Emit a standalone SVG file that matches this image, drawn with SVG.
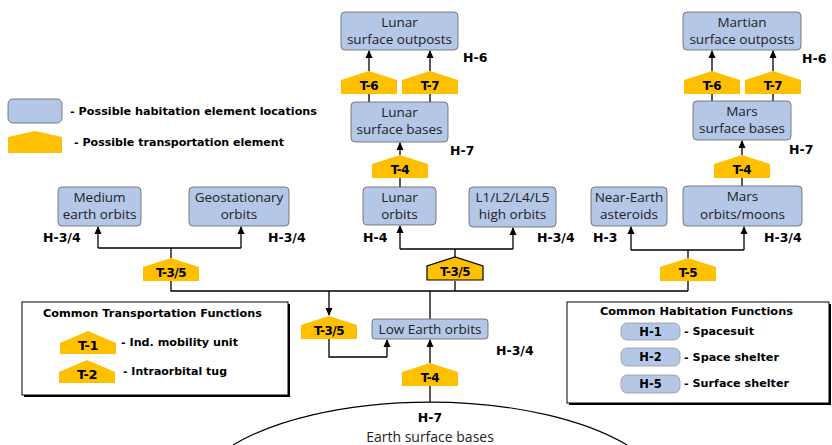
<svg xmlns="http://www.w3.org/2000/svg" width="832" height="445" viewBox="0 0 832 445">
<style>
.hab{fill:#b4c7e7;stroke:#5f5f5f;stroke-width:0.8}
.pill{fill:#b4c7e7;stroke:#9a9a9a;stroke-width:0.8}
.tr{fill:#ffc000}
.nl{font-family:"Open Sans","DejaVu Sans",sans-serif;font-size:13.5px;fill:#222;text-anchor:middle}
.hl{font-family:"DejaVu Sans",sans-serif;font-weight:bold;font-size:12.5px;fill:#000}
.tl{font-family:"DejaVu Sans",sans-serif;font-weight:bold;font-size:12px;letter-spacing:-0.5px;fill:#000;text-anchor:middle}
.lg{font-family:"DejaVu Sans",sans-serif;font-weight:bold;font-size:11px;fill:#000}
.cn{fill:none;stroke:#000;stroke-width:1.3}
.ar{fill:none;stroke:#000;stroke-width:1.3;marker-end:url(#ah)}
</style>
<defs>
<marker id="ah" markerUnits="userSpaceOnUse" markerWidth="8" markerHeight="8" refX="7" refY="4" orient="auto">
<path d="M0,0.5 L8,4 L0,7.5 Z" fill="#000"/>
</marker>
<path id="pent" d="M0,23 V9 L28,0 L56,9 V23 Z"/>
<path id="pentL" d="M0,23 V12 L28,0 L56,12 V23 Z"/>
</defs>

<!-- Top legend -->
<g id="legend-top">
<rect class="hab" x="8" y="99" width="54" height="24" rx="5"/>
<text class="lg" x="70" y="115" textLength="247" lengthAdjust="spacingAndGlyphs">- Possible habitation element locations</text>
<path class="tr" d="M8,153 V137 L35,131 L62,137 V153 Z"/>
<text class="lg" x="74" y="146" textLength="210" lengthAdjust="spacingAndGlyphs">- Possible transportation element</text>
</g>

<!-- Connectors -->
<g id="connectors">
<path class="cn" d="M171,281 V291 H688"/>
<path class="cn" d="M171,258 V248 M98,248 H241"/>
<path class="ar" d="M98,248 V227"/>
<path class="ar" d="M241,248 V227"/>
<path class="cn" d="M455,281 V291"/>
<path class="cn" d="M455,257 V249 M400,249 H513"/>
<path class="ar" d="M400,249 V226"/>
<path class="ar" d="M513,249 V228"/>
<path class="cn" d="M688,281 V291"/>
<path class="cn" d="M688,258 V250 M631,250 H744"/>
<path class="ar" d="M631,250 V227"/>
<path class="ar" d="M744,250 V227"/>
<path class="cn" d="M400,187 V178"/>
<path class="ar" d="M400,155 V143"/>
<path class="cn" d="M369,102 V94 M430,102 V94"/>
<path class="ar" d="M369,71 V51"/>
<path class="ar" d="M430,71 V51"/>
<path class="cn" d="M742,186 V178"/>
<path class="ar" d="M742,155 V141"/>
<path class="cn" d="M712,101 V94 M773,101 V94"/>
<path class="ar" d="M712,71 V51"/>
<path class="ar" d="M773,71 V51"/>
<path class="ar" d="M329,291 V315"/>
<path class="cn" d="M329,339 V357 H387"/>
<path class="ar" d="M387,357 V340"/>
<path class="cn" d="M430,291 V319"/>
<path class="ar" d="M430,363 V340"/>
<path class="cn" d="M430,386 V402"/>
</g>

<!-- Habitation nodes -->
<g id="medium-earth-orbits">
<rect class="hab" x="58" y="187" width="83" height="39" rx="4"/>
<text class="nl" x="99.5" y="202">Medium</text>
<text class="nl" x="99.5" y="219">earth orbits</text>
</g>
<g id="geostationary-orbits">
<rect class="hab" x="189" y="187" width="100" height="39" rx="4"/>
<text class="nl" x="239" y="202">Geostationary</text>
<text class="nl" x="239" y="219">orbits</text>
</g>
<g id="lunar-orbits">
<rect class="hab" x="363" y="187" width="73" height="38" rx="4"/>
<text class="nl" x="399.5" y="202">Lunar</text>
<text class="nl" x="399.5" y="219">orbits</text>
</g>
<g id="l-points">
<rect class="hab" x="469" y="187" width="87" height="40" rx="4"/>
<text class="nl" x="512.5" y="202">L1/L2/L4/L5</text>
<text class="nl" x="512.5" y="219">high orbits</text>
</g>
<g id="near-earth-asteroids">
<rect class="hab" x="591" y="187" width="76" height="39" rx="4"/>
<text class="nl" x="629" y="202">Near-Earth</text>
<text class="nl" x="629" y="219">asteroids</text>
</g>
<g id="mars-orbits">
<rect class="hab" x="683" y="186" width="119" height="40" rx="4"/>
<text class="nl" x="742.5" y="201">Mars</text>
<text class="nl" x="742.5" y="219">orbits/moons</text>
</g>
<g id="lunar-surface-bases">
<rect class="hab" x="351" y="102" width="97" height="40" rx="4"/>
<text class="nl" x="399.5" y="117">Lunar</text>
<text class="nl" x="399.5" y="134">surface bases</text>
</g>
<g id="lunar-surface-outposts">
<rect class="hab" x="341" y="12" width="117" height="38" rx="4"/>
<text class="nl" x="399.5" y="27">Lunar</text>
<text class="nl" x="399.5" y="44">surface outposts</text>
</g>
<g id="mars-surface-bases">
<rect class="hab" x="693" y="101" width="98" height="39" rx="4"/>
<text class="nl" x="742" y="116">Mars</text>
<text class="nl" x="742" y="133">surface bases</text>
</g>
<g id="martian-surface-outposts">
<rect class="hab" x="683" y="12" width="118" height="38" rx="4"/>
<text class="nl" x="742" y="27">Martian</text>
<text class="nl" x="742" y="44">surface outposts</text>
</g>
<g id="low-earth-orbits">
<rect class="hab" x="372" y="319" width="116" height="20" rx="3"/>
<text class="nl" x="430" y="334">Low Earth orbits</text>
</g>
<g id="earth-surface-bases">
<path d="M233,445 A240,100 0 0 1 627,445" fill="none" stroke="#000" stroke-width="1.2"/>
<text class="hl" x="430" y="422" text-anchor="middle">H-7</text>
<text class="nl" x="430" y="442" style="font-size:14px">Earth surface bases</text>
</g>

<!-- Transport nodes -->
<g id="t35-left"><use href="#pent" class="tr" x="143" y="258"/><text class="tl" x="171" y="277">T-3/5</text></g>
<g id="t35-center"><use href="#pent" class="tr" x="427" y="257" stroke="#000" stroke-width="1.2"/><text class="tl" x="455" y="276">T-3/5</text></g>
<g id="t5"><use href="#pent" class="tr" x="660" y="258"/><text class="tl" x="688" y="277">T-5</text></g>
<g id="t4-lunar"><use href="#pent" class="tr" x="372" y="155"/><text class="tl" x="400" y="174">T-4</text></g>
<g id="t4-mars"><use href="#pent" class="tr" x="714" y="155"/><text class="tl" x="742" y="174">T-4</text></g>
<g id="t6-lunar"><use href="#pent" class="tr" x="341" y="71"/><text class="tl" x="369" y="90">T-6</text></g>
<g id="t7-lunar"><use href="#pent" class="tr" x="402" y="71"/><text class="tl" x="430" y="90">T-7</text></g>
<g id="t6-mars"><use href="#pent" class="tr" x="684" y="71"/><text class="tl" x="712" y="90">T-6</text></g>
<g id="t7-mars"><use href="#pent" class="tr" x="745" y="71"/><text class="tl" x="773" y="90">T-7</text></g>
<g id="t35-leo"><use href="#pent" class="tr" x="301" y="316"/><text class="tl" x="329" y="335">T-3/5</text></g>
<g id="t4-earth"><use href="#pent" class="tr" x="402" y="363"/><text class="tl" x="430" y="382">T-4</text></g>

<!-- H labels -->
<g id="h-labels">
<text class="hl" x="43" y="242">H-3/4</text>
<text class="hl" x="268" y="242">H-3/4</text>
<text class="hl" x="363" y="242">H-4</text>
<text class="hl" x="537" y="242">H-3/4</text>
<text class="hl" x="593" y="242">H-3</text>
<text class="hl" x="764" y="242">H-3/4</text>
<text class="hl" x="463" y="62">H-6</text>
<text class="hl" x="450" y="155">H-7</text>
<text class="hl" x="802" y="63">H-6</text>
<text class="hl" x="789" y="154">H-7</text>
<text class="hl" x="496" y="355">H-3/4</text>
</g>

<!-- Common Transportation Functions -->
<g id="transport-legend">
<rect x="24" y="304" width="266" height="93" fill="#000"/>
<rect x="22" y="302" width="266" height="93" fill="#fff" stroke="#000" stroke-width="1"/>
<text class="lg" x="43" y="317" textLength="219" lengthAdjust="spacingAndGlyphs">Common Transportation Functions</text>
<use href="#pentL" class="tr" x="60" y="331"/>
<text class="tl" x="88" y="350" style="font-size:13px">T-1</text>
<text class="lg" x="121" y="346" textLength="117" lengthAdjust="spacingAndGlyphs">- Ind. mobility unit</text>
<use href="#pentL" class="tr" x="59" y="360"/>
<text class="tl" x="87" y="379" style="font-size:13px">T-2</text>
<text class="lg" x="123" y="375" textLength="104" lengthAdjust="spacingAndGlyphs">- Intraorbital tug</text>
</g>

<!-- Common Habitation Functions -->
<g id="habitation-legend">
<rect x="569" y="304" width="262" height="101" fill="#000"/>
<rect x="567" y="302" width="262" height="101" fill="#fff" stroke="#000" stroke-width="1"/>
<text class="lg" x="600" y="315" textLength="193" lengthAdjust="spacingAndGlyphs">Common Habitation Functions</text>
<rect class="pill" x="621" y="323" width="59" height="17" rx="6"/>
<text class="hl" x="650.5" y="336" text-anchor="middle" style="font-size:11.5px">H-1</text>
<text class="lg" x="684" y="335" textLength="70" lengthAdjust="spacingAndGlyphs">- Spacesuit</text>
<rect class="pill" x="621" y="348" width="59" height="18" rx="6"/>
<text class="hl" x="650.5" y="361" text-anchor="middle" style="font-size:11.5px">H-2</text>
<text class="lg" x="684" y="361" textLength="95" lengthAdjust="spacingAndGlyphs">- Space shelter</text>
<rect class="pill" x="621" y="375" width="59" height="18" rx="6"/>
<text class="hl" x="650.5" y="388" text-anchor="middle" style="font-size:11.5px">H-5</text>
<text class="lg" x="684" y="387" textLength="105" lengthAdjust="spacingAndGlyphs">- Surface shelter</text>
</g>
</svg>
